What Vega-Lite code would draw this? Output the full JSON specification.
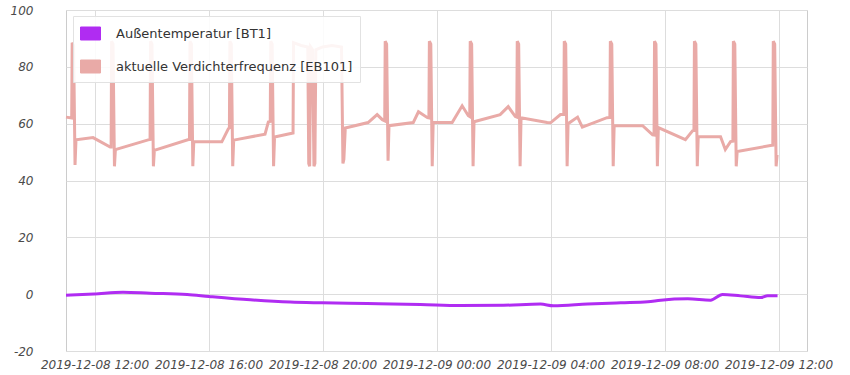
{
  "$schema": "https://vega.github.io/schema/vega-lite/v6.json",
  "width": 741,
  "height": 341,
  "autosize": {"type": "none"},
  "padding": {"left": 66, "top": 10, "right": 43, "bottom": 24},
  "background": "white",
  "config": {
    "view": {"stroke": "#cccccc", "strokeWidth": 1},
    "font": "DejaVu Sans"
  },
  "data": {
    "values": [
      {"time": "2019-12-08 11:00", "value": 62.3, "series": "aktuelle Verdichterfrequenz [EB101]"},
      {"time": "2019-12-08 11:12", "value": 62, "series": "aktuelle Verdichterfrequenz [EB101]"},
      {"time": "2019-12-08 11:13", "value": 88.5, "series": "aktuelle Verdichterfrequenz [EB101]"},
      {"time": "2019-12-08 11:16", "value": 87.5, "series": "aktuelle Verdichterfrequenz [EB101]"},
      {"time": "2019-12-08 11:19", "value": 45.5, "series": "aktuelle Verdichterfrequenz [EB101]"},
      {"time": "2019-12-08 11:21", "value": 54.3, "series": "aktuelle Verdichterfrequenz [EB101]"},
      {"time": "2019-12-08 11:57", "value": 55.1, "series": "aktuelle Verdichterfrequenz [EB101]"},
      {"time": "2019-12-08 12:33", "value": 51.8, "series": "aktuelle Verdichterfrequenz [EB101]"},
      {"time": "2019-12-08 12:35", "value": 51.8, "series": "aktuelle Verdichterfrequenz [EB101]"},
      {"time": "2019-12-08 12:36", "value": 89, "series": "aktuelle Verdichterfrequenz [EB101]"},
      {"time": "2019-12-08 12:39", "value": 88, "series": "aktuelle Verdichterfrequenz [EB101]"},
      {"time": "2019-12-08 12:42", "value": 45, "series": "aktuelle Verdichterfrequenz [EB101]"},
      {"time": "2019-12-08 12:44", "value": 50.9, "series": "aktuelle Verdichterfrequenz [EB101]"},
      {"time": "2019-12-08 13:53", "value": 54.3, "series": "aktuelle Verdichterfrequenz [EB101]"},
      {"time": "2019-12-08 13:57", "value": 54.4, "series": "aktuelle Verdichterfrequenz [EB101]"},
      {"time": "2019-12-08 13:58", "value": 89, "series": "aktuelle Verdichterfrequenz [EB101]"},
      {"time": "2019-12-08 14:01", "value": 88, "series": "aktuelle Verdichterfrequenz [EB101]"},
      {"time": "2019-12-08 14:04", "value": 45, "series": "aktuelle Verdichterfrequenz [EB101]"},
      {"time": "2019-12-08 14:06", "value": 50.6, "series": "aktuelle Verdichterfrequenz [EB101]"},
      {"time": "2019-12-08 15:18", "value": 54.4, "series": "aktuelle Verdichterfrequenz [EB101]"},
      {"time": "2019-12-08 15:20", "value": 54.4, "series": "aktuelle Verdichterfrequenz [EB101]"},
      {"time": "2019-12-08 15:21", "value": 89, "series": "aktuelle Verdichterfrequenz [EB101]"},
      {"time": "2019-12-08 15:24", "value": 88, "series": "aktuelle Verdichterfrequenz [EB101]"},
      {"time": "2019-12-08 15:27", "value": 45, "series": "aktuelle Verdichterfrequenz [EB101]"},
      {"time": "2019-12-08 15:29", "value": 53.6, "series": "aktuelle Verdichterfrequenz [EB101]"},
      {"time": "2019-12-08 16:28", "value": 53.6, "series": "aktuelle Verdichterfrequenz [EB101]"},
      {"time": "2019-12-08 16:42", "value": 58.3, "series": "aktuelle Verdichterfrequenz [EB101]"},
      {"time": "2019-12-08 16:44", "value": 58.5, "series": "aktuelle Verdichterfrequenz [EB101]"},
      {"time": "2019-12-08 16:45", "value": 89, "series": "aktuelle Verdichterfrequenz [EB101]"},
      {"time": "2019-12-08 16:48", "value": 88, "series": "aktuelle Verdichterfrequenz [EB101]"},
      {"time": "2019-12-08 16:51", "value": 45, "series": "aktuelle Verdichterfrequenz [EB101]"},
      {"time": "2019-12-08 16:53", "value": 54.2, "series": "aktuelle Verdichterfrequenz [EB101]"},
      {"time": "2019-12-08 17:59", "value": 56.3, "series": "aktuelle Verdichterfrequenz [EB101]"},
      {"time": "2019-12-08 18:06", "value": 60.6, "series": "aktuelle Verdichterfrequenz [EB101]"},
      {"time": "2019-12-08 18:10", "value": 60.8, "series": "aktuelle Verdichterfrequenz [EB101]"},
      {"time": "2019-12-08 18:11", "value": 89, "series": "aktuelle Verdichterfrequenz [EB101]"},
      {"time": "2019-12-08 18:14", "value": 88, "series": "aktuelle Verdichterfrequenz [EB101]"},
      {"time": "2019-12-08 18:17", "value": 45, "series": "aktuelle Verdichterfrequenz [EB101]"},
      {"time": "2019-12-08 18:19", "value": 55.3, "series": "aktuelle Verdichterfrequenz [EB101]"},
      {"time": "2019-12-08 18:58", "value": 56.7, "series": "aktuelle Verdichterfrequenz [EB101]"},
      {"time": "2019-12-08 18:59", "value": 88.5, "series": "aktuelle Verdichterfrequenz [EB101]"},
      {"time": "2019-12-08 19:15", "value": 87.5, "series": "aktuelle Verdichterfrequenz [EB101]"},
      {"time": "2019-12-08 19:29", "value": 87, "series": "aktuelle Verdichterfrequenz [EB101]"},
      {"time": "2019-12-08 19:31", "value": 46, "series": "aktuelle Verdichterfrequenz [EB101]"},
      {"time": "2019-12-08 19:33", "value": 45, "series": "aktuelle Verdichterfrequenz [EB101]"},
      {"time": "2019-12-08 19:35", "value": 87, "series": "aktuelle Verdichterfrequenz [EB101]"},
      {"time": "2019-12-08 19:39", "value": 86, "series": "aktuelle Verdichterfrequenz [EB101]"},
      {"time": "2019-12-08 19:42", "value": 45, "series": "aktuelle Verdichterfrequenz [EB101]"},
      {"time": "2019-12-08 19:44", "value": 46, "series": "aktuelle Verdichterfrequenz [EB101]"},
      {"time": "2019-12-08 19:46", "value": 86, "series": "aktuelle Verdichterfrequenz [EB101]"},
      {"time": "2019-12-08 20:00", "value": 87, "series": "aktuelle Verdichterfrequenz [EB101]"},
      {"time": "2019-12-08 20:20", "value": 87.5, "series": "aktuelle Verdichterfrequenz [EB101]"},
      {"time": "2019-12-08 20:40", "value": 87, "series": "aktuelle Verdichterfrequenz [EB101]"},
      {"time": "2019-12-08 20:43", "value": 46, "series": "aktuelle Verdichterfrequenz [EB101]"},
      {"time": "2019-12-08 20:45", "value": 47.5, "series": "aktuelle Verdichterfrequenz [EB101]"},
      {"time": "2019-12-08 20:48", "value": 58.5, "series": "aktuelle Verdichterfrequenz [EB101]"},
      {"time": "2019-12-08 21:36", "value": 60.4, "series": "aktuelle Verdichterfrequenz [EB101]"},
      {"time": "2019-12-08 21:55", "value": 63.2, "series": "aktuelle Verdichterfrequenz [EB101]"},
      {"time": "2019-12-08 22:06", "value": 61.4, "series": "aktuelle Verdichterfrequenz [EB101]"},
      {"time": "2019-12-08 22:11", "value": 61, "series": "aktuelle Verdichterfrequenz [EB101]"},
      {"time": "2019-12-08 22:12", "value": 89, "series": "aktuelle Verdichterfrequenz [EB101]"},
      {"time": "2019-12-08 22:15", "value": 88, "series": "aktuelle Verdichterfrequenz [EB101]"},
      {"time": "2019-12-08 22:18", "value": 47, "series": "aktuelle Verdichterfrequenz [EB101]"},
      {"time": "2019-12-08 22:20", "value": 59.3, "series": "aktuelle Verdichterfrequenz [EB101]"},
      {"time": "2019-12-08 23:11", "value": 60.4, "series": "aktuelle Verdichterfrequenz [EB101]"},
      {"time": "2019-12-08 23:22", "value": 64.2, "series": "aktuelle Verdichterfrequenz [EB101]"},
      {"time": "2019-12-08 23:41", "value": 62.1, "series": "aktuelle Verdichterfrequenz [EB101]"},
      {"time": "2019-12-08 23:44", "value": 62, "series": "aktuelle Verdichterfrequenz [EB101]"},
      {"time": "2019-12-08 23:45", "value": 89, "series": "aktuelle Verdichterfrequenz [EB101]"},
      {"time": "2019-12-08 23:48", "value": 88, "series": "aktuelle Verdichterfrequenz [EB101]"},
      {"time": "2019-12-08 23:51", "value": 45, "series": "aktuelle Verdichterfrequenz [EB101]"},
      {"time": "2019-12-08 23:53", "value": 60.4, "series": "aktuelle Verdichterfrequenz [EB101]"},
      {"time": "2019-12-09 00:33", "value": 60.4, "series": "aktuelle Verdichterfrequenz [EB101]"},
      {"time": "2019-12-09 00:54", "value": 66.3, "series": "aktuelle Verdichterfrequenz [EB101]"},
      {"time": "2019-12-09 01:07", "value": 62.8, "series": "aktuelle Verdichterfrequenz [EB101]"},
      {"time": "2019-12-09 01:10", "value": 62.5, "series": "aktuelle Verdichterfrequenz [EB101]"},
      {"time": "2019-12-09 01:11", "value": 89, "series": "aktuelle Verdichterfrequenz [EB101]"},
      {"time": "2019-12-09 01:14", "value": 88, "series": "aktuelle Verdichterfrequenz [EB101]"},
      {"time": "2019-12-09 01:17", "value": 45, "series": "aktuelle Verdichterfrequenz [EB101]"},
      {"time": "2019-12-09 01:19", "value": 60.7, "series": "aktuelle Verdichterfrequenz [EB101]"},
      {"time": "2019-12-09 02:14", "value": 63.2, "series": "aktuelle Verdichterfrequenz [EB101]"},
      {"time": "2019-12-09 02:31", "value": 66, "series": "aktuelle Verdichterfrequenz [EB101]"},
      {"time": "2019-12-09 02:46", "value": 62.5, "series": "aktuelle Verdichterfrequenz [EB101]"},
      {"time": "2019-12-09 02:49", "value": 62.3, "series": "aktuelle Verdichterfrequenz [EB101]"},
      {"time": "2019-12-09 02:50", "value": 89, "series": "aktuelle Verdichterfrequenz [EB101]"},
      {"time": "2019-12-09 02:53", "value": 88, "series": "aktuelle Verdichterfrequenz [EB101]"},
      {"time": "2019-12-09 02:56", "value": 45, "series": "aktuelle Verdichterfrequenz [EB101]"},
      {"time": "2019-12-09 02:58", "value": 62.1, "series": "aktuelle Verdichterfrequenz [EB101]"},
      {"time": "2019-12-09 03:53", "value": 60.4, "series": "aktuelle Verdichterfrequenz [EB101]"},
      {"time": "2019-12-09 04:00", "value": 60.3, "series": "aktuelle Verdichterfrequenz [EB101]"},
      {"time": "2019-12-09 04:21", "value": 63.2, "series": "aktuelle Verdichterfrequenz [EB101]"},
      {"time": "2019-12-09 04:28", "value": 63.3, "series": "aktuelle Verdichterfrequenz [EB101]"},
      {"time": "2019-12-09 04:29", "value": 89, "series": "aktuelle Verdichterfrequenz [EB101]"},
      {"time": "2019-12-09 04:32", "value": 88, "series": "aktuelle Verdichterfrequenz [EB101]"},
      {"time": "2019-12-09 04:35", "value": 45, "series": "aktuelle Verdichterfrequenz [EB101]"},
      {"time": "2019-12-09 04:37", "value": 60, "series": "aktuelle Verdichterfrequenz [EB101]"},
      {"time": "2019-12-09 04:57", "value": 62.3, "series": "aktuelle Verdichterfrequenz [EB101]"},
      {"time": "2019-12-09 05:07", "value": 58.8, "series": "aktuelle Verdichterfrequenz [EB101]"},
      {"time": "2019-12-09 05:59", "value": 62.1, "series": "aktuelle Verdichterfrequenz [EB101]"},
      {"time": "2019-12-09 06:05", "value": 62.2, "series": "aktuelle Verdichterfrequenz [EB101]"},
      {"time": "2019-12-09 06:06", "value": 89, "series": "aktuelle Verdichterfrequenz [EB101]"},
      {"time": "2019-12-09 06:09", "value": 88, "series": "aktuelle Verdichterfrequenz [EB101]"},
      {"time": "2019-12-09 06:12", "value": 45, "series": "aktuelle Verdichterfrequenz [EB101]"},
      {"time": "2019-12-09 06:14", "value": 59.3, "series": "aktuelle Verdichterfrequenz [EB101]"},
      {"time": "2019-12-09 07:14", "value": 59.3, "series": "aktuelle Verdichterfrequenz [EB101]"},
      {"time": "2019-12-09 07:35", "value": 56.1, "series": "aktuelle Verdichterfrequenz [EB101]"},
      {"time": "2019-12-09 07:38", "value": 56, "series": "aktuelle Verdichterfrequenz [EB101]"},
      {"time": "2019-12-09 07:39", "value": 89, "series": "aktuelle Verdichterfrequenz [EB101]"},
      {"time": "2019-12-09 07:42", "value": 88, "series": "aktuelle Verdichterfrequenz [EB101]"},
      {"time": "2019-12-09 07:45", "value": 45, "series": "aktuelle Verdichterfrequenz [EB101]"},
      {"time": "2019-12-09 07:47", "value": 58.6, "series": "aktuelle Verdichterfrequenz [EB101]"},
      {"time": "2019-12-09 08:44", "value": 54.4, "series": "aktuelle Verdichterfrequenz [EB101]"},
      {"time": "2019-12-09 08:59", "value": 57.5, "series": "aktuelle Verdichterfrequenz [EB101]"},
      {"time": "2019-12-09 09:02", "value": 57.6, "series": "aktuelle Verdichterfrequenz [EB101]"},
      {"time": "2019-12-09 09:03", "value": 89, "series": "aktuelle Verdichterfrequenz [EB101]"},
      {"time": "2019-12-09 09:06", "value": 88, "series": "aktuelle Verdichterfrequenz [EB101]"},
      {"time": "2019-12-09 09:09", "value": 45, "series": "aktuelle Verdichterfrequenz [EB101]"},
      {"time": "2019-12-09 09:11", "value": 55.4, "series": "aktuelle Verdichterfrequenz [EB101]"},
      {"time": "2019-12-09 09:58", "value": 55.4, "series": "aktuelle Verdichterfrequenz [EB101]"},
      {"time": "2019-12-09 10:08", "value": 50.9, "series": "aktuelle Verdichterfrequenz [EB101]"},
      {"time": "2019-12-09 10:19", "value": 53.7, "series": "aktuelle Verdichterfrequenz [EB101]"},
      {"time": "2019-12-09 10:24", "value": 53.8, "series": "aktuelle Verdichterfrequenz [EB101]"},
      {"time": "2019-12-09 10:25", "value": 89, "series": "aktuelle Verdichterfrequenz [EB101]"},
      {"time": "2019-12-09 10:28", "value": 88, "series": "aktuelle Verdichterfrequenz [EB101]"},
      {"time": "2019-12-09 10:31", "value": 45, "series": "aktuelle Verdichterfrequenz [EB101]"},
      {"time": "2019-12-09 10:33", "value": 50.2, "series": "aktuelle Verdichterfrequenz [EB101]"},
      {"time": "2019-12-09 11:43", "value": 52.3, "series": "aktuelle Verdichterfrequenz [EB101]"},
      {"time": "2019-12-09 11:48", "value": 52.4, "series": "aktuelle Verdichterfrequenz [EB101]"},
      {"time": "2019-12-09 11:49", "value": 89, "series": "aktuelle Verdichterfrequenz [EB101]"},
      {"time": "2019-12-09 11:52", "value": 88, "series": "aktuelle Verdichterfrequenz [EB101]"},
      {"time": "2019-12-09 11:55", "value": 45, "series": "aktuelle Verdichterfrequenz [EB101]"},
      {"time": "2019-12-09 11:57", "value": 49, "series": "aktuelle Verdichterfrequenz [EB101]"},
      {"time": "2019-12-08 11:00", "value": -0.35, "series": "Außentemperatur [BT1]"},
      {"time": "2019-12-08 11:59", "value": 0.1, "series": "Außentemperatur [BT1]"},
      {"time": "2019-12-08 13:00", "value": 0.7, "series": "Außentemperatur [BT1]"},
      {"time": "2019-12-08 13:57", "value": 0.35, "series": "Außentemperatur [BT1]"},
      {"time": "2019-12-08 15:15", "value": -0.1, "series": "Außentemperatur [BT1]"},
      {"time": "2019-12-08 16:01", "value": -0.8, "series": "Außentemperatur [BT1]"},
      {"time": "2019-12-08 17:28", "value": -2.0, "series": "Außentemperatur [BT1]"},
      {"time": "2019-12-08 18:52", "value": -2.8, "series": "Außentemperatur [BT1]"},
      {"time": "2019-12-08 19:59", "value": -3.05, "series": "Außentemperatur [BT1]"},
      {"time": "2019-12-08 21:34", "value": -3.3, "series": "Außentemperatur [BT1]"},
      {"time": "2019-12-08 23:26", "value": -3.6, "series": "Außentemperatur [BT1]"},
      {"time": "2019-12-09 00:50", "value": -4.0, "series": "Außentemperatur [BT1]"},
      {"time": "2019-12-09 02:21", "value": -3.9, "series": "Außentemperatur [BT1]"},
      {"time": "2019-12-09 03:39", "value": -3.5, "series": "Außentemperatur [BT1]"},
      {"time": "2019-12-09 04:06", "value": -4.1, "series": "Außentemperatur [BT1]"},
      {"time": "2019-12-09 05:18", "value": -3.5, "series": "Außentemperatur [BT1]"},
      {"time": "2019-12-09 06:28", "value": -3.05, "series": "Außentemperatur [BT1]"},
      {"time": "2019-12-09 07:25", "value": -2.7, "series": "Außentemperatur [BT1]"},
      {"time": "2019-12-09 07:52", "value": -2.1, "series": "Außentemperatur [BT1]"},
      {"time": "2019-12-09 08:49", "value": -1.65, "series": "Außentemperatur [BT1]"},
      {"time": "2019-12-09 09:37", "value": -2.1, "series": "Außentemperatur [BT1]"},
      {"time": "2019-12-09 10:02", "value": -0.1, "series": "Außentemperatur [BT1]"},
      {"time": "2019-12-09 10:40", "value": -0.6, "series": "Außentemperatur [BT1]"},
      {"time": "2019-12-09 11:23", "value": -1.2, "series": "Außentemperatur [BT1]"},
      {"time": "2019-12-09 11:37", "value": -0.6, "series": "Außentemperatur [BT1]"},
      {"time": "2019-12-09 11:58", "value": -0.6, "series": "Außentemperatur [BT1]"}
    ]
  },
  "encoding": {
    "x": {
      "field": "time",
      "type": "temporal",
      "scale": {
        "domain": [
          {"year": 2019, "month": 12, "date": 8, "hours": 11},
          {"year": 2019, "month": 12, "date": 9, "hours": 13}
        ]
      },
      "axis": {
        "title": null,
        "format": "%Y-%m-%d %H:%M",
        "values": [
          {"year": 2019, "month": 12, "date": 8, "hours": 12},
          {"year": 2019, "month": 12, "date": 8, "hours": 16},
          {"year": 2019, "month": 12, "date": 8, "hours": 20},
          {"year": 2019, "month": 12, "date": 9, "hours": 0},
          {"year": 2019, "month": 12, "date": 9, "hours": 4},
          {"year": 2019, "month": 12, "date": 9, "hours": 8},
          {"year": 2019, "month": 12, "date": 9, "hours": 12}
        ],
        "labelFont": "DejaVu Sans",
        "labelFontSize": 12,
        "labelFontStyle": "italic",
        "labelColor": "#4a4a4a",
        "labelPadding": 8,
        "ticks": false,
        "domain": false,
        "grid": true,
        "gridColor": "#dddddd"
      }
    },
    "y": {
      "field": "value",
      "type": "quantitative",
      "scale": {"domain": [-20, 100], "nice": false, "zero": false},
      "axis": {
        "title": null,
        "values": [-20, 0, 20, 40, 60, 80, 100],
        "labelExpr": "'' + datum.value",
        "labelFont": "DejaVu Sans",
        "labelFontSize": 12,
        "labelFontStyle": "italic",
        "labelColor": "#4a4a4a",
        "labelPadding": 33,
        "ticks": false,
        "domain": false,
        "grid": true,
        "gridColor": "#dddddd"
      }
    },
    "color": {
      "field": "series",
      "type": "nominal",
      "scale": {
        "domain": ["Außentemperatur [BT1]", "aktuelle Verdichterfrequenz [EB101]"],
        "range": ["#b02cf2", "#e9aaa7"]
      },
      "legend": {
        "title": null,
        "orient": "none",
        "legendX": 7,
        "legendY": 6,
        "fillColor": "rgba(255,255,255,0.88)",
        "strokeColor": "#e2e2e2",
        "padding": 7,
        "rowPadding": 14,
        "symbolType": "M-1,-0.65L1,-0.65L1,0.65L-1,0.65Z",
        "symbolSize": 400,
        "labelFont": "DejaVu Sans",
        "labelFontSize": 13,
        "labelColor": "#333333",
        "labelOffset": 15,
        "labelLimit": 400,
        "encode": {
          "symbols": {
            "update": {
              "fill": {"scale": "color", "field": "value"},
              "fillOpacity": {"value": 1},
              "stroke": {"value": "#d9d9d9"},
              "strokeWidth": {"value": 1}
            }
          }
        }
      }
    }
  },
  "layer": [
    {
      "transform": [{"filter": "datum.series == 'aktuelle Verdichterfrequenz [EB101]'"}],
      "mark": {"type": "line", "strokeWidth": 3}
    },
    {
      "transform": [{"filter": "datum.series == 'Außentemperatur [BT1]'"}],
      "mark": {"type": "line", "strokeWidth": 3, "interpolate": "monotone"}
    }
  ]
}
